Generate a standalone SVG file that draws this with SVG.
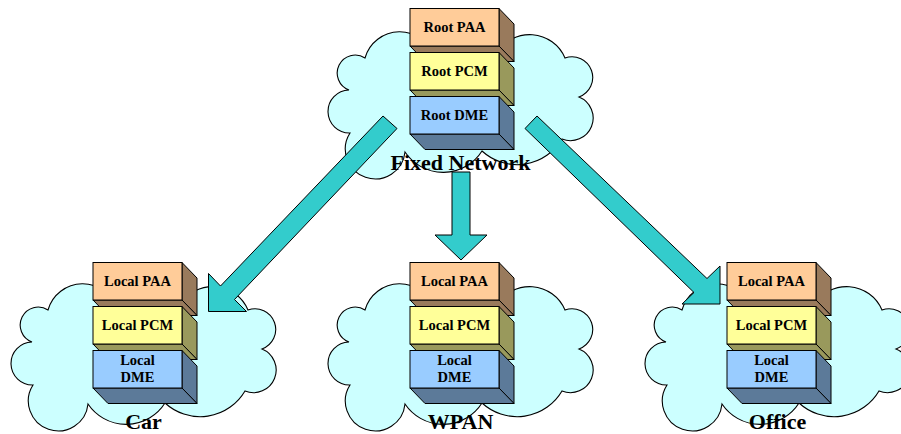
<svg xmlns="http://www.w3.org/2000/svg" width="901" height="434" viewBox="0 0 901 434">
  <style>
    .cloud{fill:#CCFFFF;stroke:#000;stroke-width:1.1}
    .slab polygon,.slab rect{stroke:#000;stroke-width:1}
    .paa .front{fill:#FFCC99}.paa .side{fill:#997A5C}
    .pcm .front{fill:#FFFF99}.pcm .side{fill:#99995C}
    .dme .front{fill:#99CCFF}.dme .side{fill:#5C7A99}
    text{font-family:"Liberation Serif","Times New Roman",serif;font-weight:bold;fill:#000;text-anchor:middle}
    .slab text{font-size:14.5px}
    .name{font-size:22px}
    .arrow{fill:#33CCCC;stroke:#000;stroke-width:1;stroke-linejoin:miter}
  </style>
  <defs>
    <!-- cloud outline, drawn in the coordinates of the lower-left cloud -->
    <path id="cloud" class="cloud" d="M32,342 A18,18 0 1 1 48,310 A36,36 0 0 1 117,309 A36,36 0 0 1 180,305 A38.3,38.3 0 0 1 248,310 A20,20 0 0 1 262,349 A22,22 0 0 1 245,391 A52,52 0 0 1 165,403 A46,46 0 0 1 88,404 A29.9,29.9 0 1 1 33,385 A21.5,21.5 0 0 1 32,342 Z"/>
  </defs>

  <!-- Fixed Network -->
  <g id="fixed-network">
    <use href="#cloud" transform="translate(317,-252)"/>
    <g class="slab paa" transform="translate(410,8.5)">
      <polygon class="side" points="89,0 104,15.5 104,53 89,37.5"/>
      <polygon class="side" points="0,37.5 89,37.5 104,53 15,53"/>
      <rect class="front" width="89" height="37.5"/>
      <text x="44.5" y="23.5">Root PAA</text>
    </g>
    <g class="slab pcm" transform="translate(410,52.5)">
      <polygon class="side" points="89,0 104,15.5 104,53 89,37.5"/>
      <polygon class="side" points="0,37.5 89,37.5 104,53 15,53"/>
      <rect class="front" width="89" height="37.5"/>
      <text x="44.5" y="23.5">Root PCM</text>
    </g>
    <g class="slab dme" transform="translate(410,96.5)">
      <polygon class="side" points="89,0 104,15.5 104,53 89,37.5"/>
      <polygon class="side" points="0,37.5 89,37.5 104,53 15,53"/>
      <rect class="front" width="89" height="37.5"/>
      <text x="44.5" y="23">Root DME</text>
    </g>
    <text class="name" x="460.5" y="170">Fixed Network</text>
  </g>

  <!-- Car -->
  <g id="car">
    <use href="#cloud"/>
    <g class="slab paa" transform="translate(93,262.5)">
      <polygon class="side" points="89,0 104,15.5 104,53 89,37.5"/>
      <polygon class="side" points="0,37.5 89,37.5 104,53 15,53"/>
      <rect class="front" width="89" height="37.5"/>
      <text x="44.5" y="23.5">Local PAA</text>
    </g>
    <g class="slab pcm" transform="translate(93,306.5)">
      <polygon class="side" points="89,0 104,15.5 104,53 89,37.5"/>
      <polygon class="side" points="0,37.5 89,37.5 104,53 15,53"/>
      <rect class="front" width="89" height="37.5"/>
      <text x="44.5" y="23.5">Local PCM</text>
    </g>
    <g class="slab dme" transform="translate(93,350.5)">
      <polygon class="side" points="89,0 104,15.5 104,53 89,37.5"/>
      <polygon class="side" points="0,37.5 89,37.5 104,53 15,53"/>
      <rect class="front" width="89" height="37.5"/>
      <text x="44.5" y="14">Local<tspan x="44.5" dy="17.5">DME</tspan></text>
    </g>
    <text class="name" x="143.5" y="429">Car</text>
  </g>

  <!-- WPAN -->
  <g id="wpan">
    <use href="#cloud" transform="translate(317,0)"/>
    <g class="slab paa" transform="translate(410,262.5)">
      <polygon class="side" points="89,0 104,15.5 104,53 89,37.5"/>
      <polygon class="side" points="0,37.5 89,37.5 104,53 15,53"/>
      <rect class="front" width="89" height="37.5"/>
      <text x="44.5" y="23.5">Local PAA</text>
    </g>
    <g class="slab pcm" transform="translate(410,306.5)">
      <polygon class="side" points="89,0 104,15.5 104,53 89,37.5"/>
      <polygon class="side" points="0,37.5 89,37.5 104,53 15,53"/>
      <rect class="front" width="89" height="37.5"/>
      <text x="44.5" y="23.5">Local PCM</text>
    </g>
    <g class="slab dme" transform="translate(410,350.5)">
      <polygon class="side" points="89,0 104,15.5 104,53 89,37.5"/>
      <polygon class="side" points="0,37.5 89,37.5 104,53 15,53"/>
      <rect class="front" width="89" height="37.5"/>
      <text x="44.5" y="14">Local<tspan x="44.5" dy="17.5">DME</tspan></text>
    </g>
    <text class="name" x="460.5" y="429">WPAN</text>
  </g>

  <!-- Office -->
  <g id="office">
    <use href="#cloud" transform="translate(634,0)"/>
    <g class="slab paa" transform="translate(727,262.5)">
      <polygon class="side" points="89,0 104,15.5 104,53 89,37.5"/>
      <polygon class="side" points="0,37.5 89,37.5 104,53 15,53"/>
      <rect class="front" width="89" height="37.5"/>
      <text x="44.5" y="23.5">Local PAA</text>
    </g>
    <g class="slab pcm" transform="translate(727,306.5)">
      <polygon class="side" points="89,0 104,15.5 104,53 89,37.5"/>
      <polygon class="side" points="0,37.5 89,37.5 104,53 15,53"/>
      <rect class="front" width="89" height="37.5"/>
      <text x="44.5" y="23.5">Local PCM</text>
    </g>
    <g class="slab dme" transform="translate(727,350.5)">
      <polygon class="side" points="89,0 104,15.5 104,53 89,37.5"/>
      <polygon class="side" points="0,37.5 89,37.5 104,53 15,53"/>
      <rect class="front" width="89" height="37.5"/>
      <text x="44.5" y="14">Local<tspan x="44.5" dy="17.5">DME</tspan></text>
    </g>
    <text class="name" x="777.5" y="429">Office</text>
  </g>

  <!-- block arrows from the fixed network to each local network -->
  <g id="connectors">
    <polygon class="arrow" points="383,116 397,128.5 234.5,299.5 246.5,311.5 208.5,311.5 208.5,273.5 220.5,286"/>
    <polygon class="arrow" points="452,172 470,172 470,235 487,235 461,260 435,235 452,235"/>
    <polygon class="arrow" points="537,116 525,128.5 694,292.5 682,304 720,304 720,266 707,278.5"/>
  </g>
</svg>
